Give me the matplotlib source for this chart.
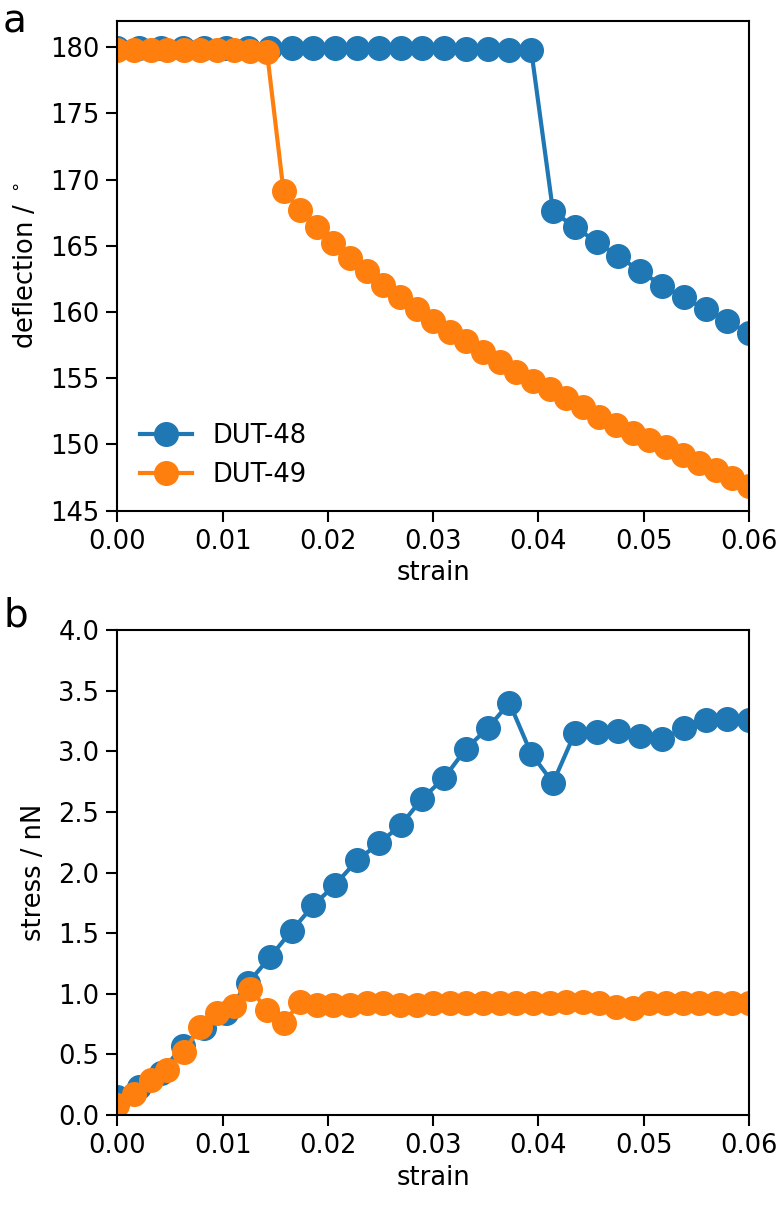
import numpy as np
import matplotlib.pyplot as plt

# strain grids (DUT-48: 30 points, DUT-49: 39 points, both 0 -> 0.06)
strain_48 = np.linspace(0, 0.06, 30)
strain_49 = np.linspace(0, 0.06, 39)

# deflection / degrees
defl_48 = [179.95, 179.95, 179.95, 179.95, 179.95, 179.95, 179.95, 179.95, 179.9, 179.9,
           179.9, 179.9, 179.9, 179.9, 179.9, 179.9, 179.85, 179.85, 179.8, 179.75,
           167.6, 166.4, 165.3, 164.2, 163.1, 162.0, 161.1, 160.2, 159.3, 158.4]
defl_49 = [179.8, 179.8, 179.8, 179.8, 179.8, 179.8, 179.8, 179.75, 179.7, 179.65,
           169.1, 167.7, 166.4, 165.2, 164.1, 163.1, 162.05, 161.1, 160.2, 159.35,
           158.5, 157.8, 157.0, 156.25, 155.5, 154.8, 154.15, 153.5, 152.8, 152.1,
           151.5, 150.9, 150.3, 149.8, 149.2, 148.6, 148.05, 147.5, 146.9]

# stress / nN
stress_48 = [0.15, 0.23, 0.35, 0.57, 0.72, 0.84, 1.09, 1.30, 1.52, 1.73,
             1.90, 2.10, 2.24, 2.39, 2.61, 2.78, 3.02, 3.19, 3.40, 2.98,
             2.74, 3.15, 3.16, 3.17, 3.13, 3.10, 3.19, 3.26, 3.27, 3.26]
stress_49 = [0.08, 0.17, 0.29, 0.37, 0.52, 0.73, 0.84, 0.90, 1.04, 0.87,
             0.76, 0.93, 0.91, 0.91, 0.91, 0.92, 0.92, 0.91, 0.91, 0.92,
             0.92, 0.92, 0.92, 0.92, 0.92, 0.92, 0.92, 0.93, 0.93, 0.92,
             0.89, 0.88, 0.92, 0.92, 0.92, 0.92, 0.92, 0.92, 0.92]

labels = ["DUT-48", "DUT-49"]
xtick_labels = ["0.00", "0.01", "0.02", "0.03", "0.04", "0.05", "0.06"]
fs = 18.5
ms = 17

plt.rcParams['font.size'] = fs
plt.rcParams['xtick.major.size'] = 8
plt.rcParams['ytick.major.size'] = 8
plt.rcParams['xtick.major.width'] = 1.5
plt.rcParams['ytick.major.width'] = 1.5
plt.rcParams['axes.linewidth'] = 1.5
plt.rcParams['xtick.major.pad'] = 5
plt.rcParams['ytick.major.pad'] = 5

fig = plt.figure(figsize=(7.79, 12.07), dpi=100)
ax1 = fig.add_axes([0.1506, 0.5769, 0.811, 0.406])
ax2 = fig.add_axes([0.1506, 0.0762, 0.811, 0.4018])

# panel a
ax1.plot(strain_48, defl_48, marker='o', ms=ms, lw=3, label=labels[0])
ax1.plot(strain_49, defl_49, marker='o', ms=ms, lw=3, label=labels[1])
ax1.set_xlim(0, 0.06)
ax1.set_ylim(145, 182)
ax1.set_yticks(np.arange(145, 181, 5))
ax1.set_xticks(np.arange(0, 0.061, 0.01))
ax1.set_xticklabels(xtick_labels)
ax1.set_xlabel("strain")
ax1.set_ylabel(r"deflection / $^\circ$", labelpad=8)
ax1.legend(loc='lower left', frameon=False, fontsize=fs)

# panel b
ax2.plot(strain_48, stress_48, marker='o', ms=ms, lw=3)
ax2.plot(strain_49, stress_49, marker='o', ms=ms, lw=3)
ax2.set_xlim(0, 0.06)
ax2.set_ylim(0, 4)
ax2.set_yticks(np.arange(0, 4.01, 0.5))
ax2.set_xticks(np.arange(0, 0.061, 0.01))
ax2.set_xticklabels(xtick_labels)
ax2.set_xlabel("strain")
ax2.set_ylabel("stress / nN", labelpad=8)

fig.text(0.004, 0.998, "a", fontsize=28, va='top', ha='left')
fig.text(0.004, 0.506, "b", fontsize=28, va='top', ha='left')

fig.savefig("out.png", dpi=100)
